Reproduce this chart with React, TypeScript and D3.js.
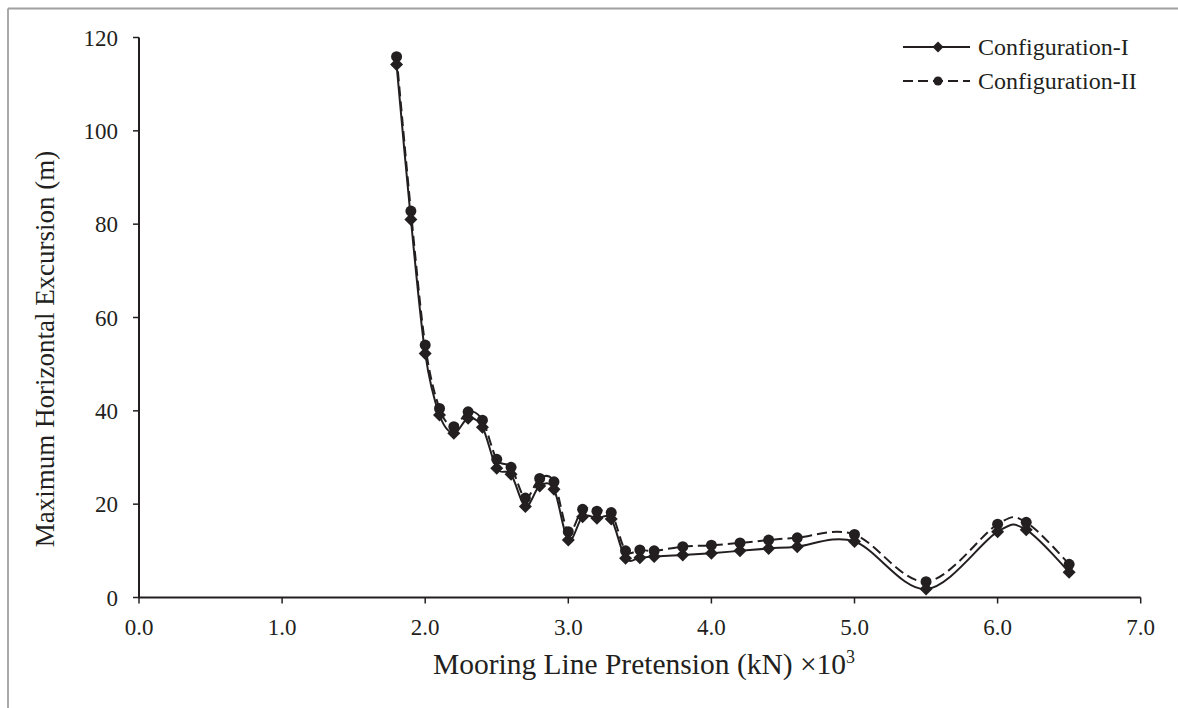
import React from "react";
import * as d3 from "d3";

// mooring line pretension (kN x 10^3)
const pretension = [1.8, 1.9, 2.0, 2.1, 2.2, 2.3, 2.4, 2.5, 2.6, 2.7, 2.8, 2.9, 3.0, 3.1, 3.2, 3.3, 3.4, 3.5, 3.6, 3.8, 4.0, 4.2, 4.4, 4.6, 5.0, 5.5, 6.0, 6.2, 6.5];
// max horizontal excursion (m)
const configI = [114.2, 81.0, 52.3, 39.1, 35.2, 38.4, 36.5, 27.7, 26.4, 19.5, 23.9, 23.2, 12.3, 17.3, 17.0, 16.8, 8.4, 8.5, 8.8, 9.1, 9.5, 10.0, 10.5, 10.9, 12.0, 1.8, 14.1, 14.5, 5.4];
const configII = [115.9, 82.8, 54.1, 40.5, 36.6, 39.8, 38.0, 29.6, 27.9, 21.3, 25.5, 24.8, 14.1, 18.9, 18.5, 18.2, 10.0, 10.2, 10.0, 10.9, 11.2, 11.7, 12.3, 12.8, 13.5, 3.4, 15.7, 16.1, 7.1];
const xTicks = [0, 1, 2, 3, 4, 5, 6, 7];
const yTicks = [0, 20, 40, 60, 80, 100, 120];
const seriesNames = ["Configuration-I", "Configuration-II"];

const W = 1178;
const H = 708;
const font = "'Liberation Serif', 'Times New Roman', serif";
const ink = "#231f20";

export default function App() {
  const x = d3.scaleLinear().domain([0, 7]).range([139, 1140.7]);
  const y = d3.scaleLinear().domain([0, 120]).range([597.5, 37.5]);

  const line = d3
    .line<number>()
    .x((d, i) => x(pretension[i]))
    .y((d) => y(d))
    .curve(d3.curveCatmullRom.alpha(0));

  const diamond = (cx: number, cy: number, r: number) =>
    `M${cx},${cy - r}L${cx + r},${cy}L${cx},${cy + r}L${cx - r},${cy}Z`;

  const x0 = y(0);

  return (
    <svg width={W} height={H} style={{ position: "absolute", left: 0, top: 0, display: "block" }}>
      {/* outer frame: only top and left edges are in view */}
      <line x1={8} x2={W} y1={8.5} y2={8.5} stroke="#a0a0a0" strokeWidth={1.8} />
      <line x1={8} x2={8} y1={8.5} y2={H} stroke="#a0a0a0" strokeWidth={1.8} />

      {/* axes */}
      <line x1={x(0)} x2={x(7)} y1={x0} y2={x0} stroke={ink} strokeWidth={2} />
      <line x1={x(0)} x2={x(0)} y1={y(0)} y2={y(120)} stroke={ink} strokeWidth={2} />
      {xTicks.map((t) => (
        <g key={"x" + t}>
          <line x1={x(t)} x2={x(t)} y1={x0} y2={x0 + 6} stroke={ink} strokeWidth={1.5} />
          <text x={x(t)} y={x0 + 37} textAnchor="middle" fontFamily={font} fontSize={23} fill={ink}>
            {t.toFixed(1)}
          </text>
        </g>
      ))}
      {yTicks.map((t) => (
        <g key={"y" + t}>
          <line x1={x(0) - 6} x2={x(0)} y1={y(t)} y2={y(t)} stroke={ink} strokeWidth={1.5} />
          <text x={x(0) - 21} y={y(t) + 8} textAnchor="end" fontFamily={font} fontSize={23} fill={ink}>
            {t}
          </text>
        </g>
      ))}

      <text x={644} y={674} textAnchor="middle" fontFamily={font} fontSize={29.5} fill={ink}>
        Mooring Line Pretension (kN) ×10<tspan dy={-11} fontSize={18}>3</tspan>
      </text>
      <text
        transform={`translate(54,349) rotate(-90)`}
        textAnchor="middle"
        fontFamily={font}
        fontSize={27}
        fill={ink}
      >
        Maximum Horizontal Excursion (m)
      </text>

      {/* series */}
      <path d={line(configII) || ""} fill="none" stroke={ink} strokeWidth={2} strokeDasharray="10,5" />
      <path d={line(configI) || ""} fill="none" stroke={ink} strokeWidth={2} />
      {configII.map((v, i) => (
        <circle key={"c" + i} cx={x(pretension[i])} cy={y(v)} r={5.5} fill={ink} />
      ))}
      {configI.map((v, i) => (
        <path key={"d" + i} d={diamond(x(pretension[i]), y(v), 6.5)} fill={ink} />
      ))}

      {/* legend */}
      <g>
        <line x1={903} x2={970} y1={47} y2={47} stroke={ink} strokeWidth={2} />
        <path d={diamond(938, 47, 5.5)} fill={ink} />
        <text x={978} y={55} fontFamily={font} fontSize={24} fill={ink}>
          {seriesNames[0]}
        </text>
        <line x1={903} x2={970} y1={81} y2={81} stroke={ink} strokeWidth={2} strokeDasharray="10,5" />
        <circle cx={938} cy={81} r={4.5} fill={ink} />
        <text x={978} y={89} fontFamily={font} fontSize={24} fill={ink}>
          {seriesNames[1]}
        </text>
      </g>
    </svg>
  );
}
